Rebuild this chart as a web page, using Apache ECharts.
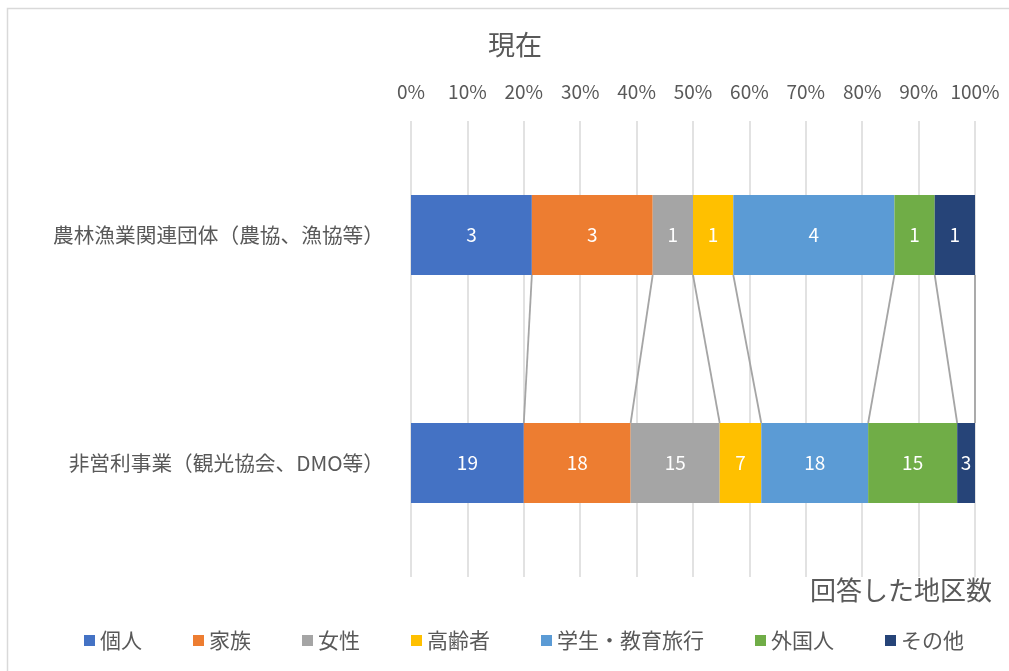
<!DOCTYPE html>
<html>
<head>
<meta charset="utf-8">
<script src="https://cdn.jsdelivr.net/npm/echarts@6/dist/echarts.min.js"></script>
<style>
  html, body { margin: 0; padding: 0; background: #fff; }
  #chart { width: 1009px; height: 671px; }
</style>
</head>
<body>
<div id="chart"></div>
<script>
// Organisation types (rows, top to bottom)
const categories = ['農林漁業関連団体（農協、漁協等）', '非営利事業（観光協会、DMO等）'];
// Target segments (stack order, left to right)
const seriesNames = ['個人', '家族', '女性', '高齢者', '学生・教育旅行', '外国人', 'その他'];
const seriesColors = ['#4472C4', '#ED7D31', '#A5A5A5', '#FFC000', '#5B9BD5', '#70AD47', '#264478'];
// Number of districts answering, per segment, for each row
const countsAgri = [3, 3, 1, 1, 4, 1, 1];
const countsNonProfit = [19, 18, 15, 7, 18, 15, 3];
// Percentage axis ticks
const tickValues = [0, 10, 20, 30, 40, 50, 60, 70, 80, 90, 100];

const rows = [countsAgri, countsNonProfit];
const totals = rows.map(r => r.reduce((a, b) => a + b, 0));
const pct = rows.map((r, i) => r.map(v => v / totals[i] * 100));

// Cumulative right edges of each segment, used for the series lines
const cumulative = pct.map(r => {
  let s = 0;
  return r.map(v => (s += v));
});
const boundaries = seriesNames.map((_, j) => [cumulative[0][j], cumulative[1][j]]);

const BAR_W = 80;
const textColor = '#595959';
const font = '"Noto Sans CJK JP", "Noto Sans", sans-serif';

const barSeries = seriesNames.map((name, j) => ({
  name: name,
  type: 'bar',
  stack: 'total',
  barWidth: BAR_W,
  itemStyle: { color: seriesColors[j] },
  label: {
    show: true,
    position: 'inside',
    color: '#ffffff',
    fontSize: 19,
    fontFamily: font,
    formatter: p => String(rows[p.dataIndex][j])
  },
  data: [pct[0][j], pct[1][j]],
  z: 3
}));

const seriesLines = {
  type: 'custom',
  name: 'series-lines',
  silent: true,
  encode: { x: [0, 1] },
  data: boundaries,
  renderItem: function (params, api) {
    const top = api.coord([api.value(0), 0]);
    const bot = api.coord([api.value(1), 1]);
    return {
      type: 'line',
      shape: {
        x1: top[0], y1: top[1] + BAR_W / 2,
        x2: bot[0], y2: bot[1] - BAR_W / 2
      },
      style: { stroke: '#A5A5A5', lineWidth: 1.8 }
    };
  },
  z: 2
};

const chart = echarts.init(document.getElementById('chart'), null, { renderer: 'canvas' });
chart.setOption({
  animation: false,
  backgroundColor: '#ffffff',
  textStyle: { fontFamily: font },
  title: [
    {
      text: '現在',
      left: 510,
      textAlign: 'center',
      top: 26,
      textStyle: { fontSize: 27, fontWeight: 'normal', color: textColor, fontFamily: font }
    },
    {
      text: '回答した地区数',
      right: 12,
      top: 572,
      textStyle: { fontSize: 26, fontWeight: 'normal', color: textColor, fontFamily: font }
    }
  ],
  legend: {
    data: seriesNames,
    left: 79,
    top: 625,
    icon: 'rect',
    itemWidth: 11,
    itemHeight: 11,
    itemGap: 51,
    textStyle: { fontSize: 21, color: textColor, fontFamily: font, padding: [0, 0, 0, 0] }
  },
  grid: { left: 411, right: 34, top: 121, bottom: 94, containLabel: false },
  xAxis: {
    type: 'value',
    position: 'top',
    min: tickValues[0],
    max: tickValues[tickValues.length - 1],
    interval: tickValues[1] - tickValues[0],
    axisLine: { show: false },
    axisTick: { show: false },
    axisLabel: {
      formatter: v => v + '%',
      color: textColor,
      fontSize: 19,
      fontFamily: font,
      margin: 20
    },
    splitLine: { show: true, lineStyle: { color: '#D9D9D9', width: 1.5 } }
  },
  yAxis: {
    type: 'category',
    inverse: true,
    data: categories,
    axisLine: { show: false },
    axisTick: { show: false },
    axisLabel: { color: textColor, fontSize: 20.7, fontFamily: font, margin: 27 }
  },
  graphic: [
    {
      type: 'rect',
      shape: { x: 7.5, y: 8.5, width: 1100, height: 800 },
      style: { fill: 'none', stroke: '#D9D9D9', lineWidth: 1.5 },
      silent: true,
      z: -1
    }
  ],
  series: [seriesLines].concat(barSeries)
});
</script>
</body>
</html>
